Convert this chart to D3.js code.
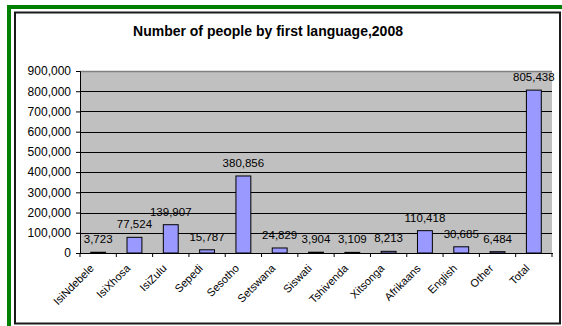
<!DOCTYPE html>
<html><head><meta charset="utf-8">
<script src="https://cdn.jsdelivr.net/npm/d3@7"></script>
<style>body{margin:0;background:#fff}svg{display:block}text{font-family:"Liberation Sans",Arial,sans-serif}</style>
</head><body><svg id="c" width="562" height="326"></svg>
<script>
const categories = ["IsiNdebele","IsiXhosa","IsiZulu","Sepedi","Sesotho","Setswana","Siswati","Tshivenda","Xitsonga","Afrikaans","English","Other","Total"];
const values = [3723,77524,139907,15787,380856,24829,3904,3109,8213,110418,30685,6484,805438];
const yTicks = [0,100000,200000,300000,400000,500000,600000,700000,800000,900000];
const title = "Number of people by first language,2008";

const svg = d3.select("#c");
// green outer frame (cropped at right/bottom)
svg.append("rect").attr("x",9).attr("y",7).attr("width",600).attr("height",400)
  .attr("fill","none").attr("stroke","#008000").attr("stroke-width",4);
// chart area
svg.append("rect").attr("x",15).attr("y",12.5).attr("width",545).attr("height",311)
  .attr("fill","#fff").attr("stroke","#1a1a1a").attr("stroke-width",2);

svg.append("text").attr("x",268).attr("y",36).attr("text-anchor","middle")
  .attr("font-size",14).attr("font-weight","bold").text(title);

const m = {l:80, r:552, t:71, b:253};
const x = d3.scaleBand().domain(categories).range([m.l,m.r]).paddingInner(0.59).paddingOuter(0.295);
const xb = d3.scaleBand().domain(categories).range([m.l,m.r]);
const y = d3.scaleLinear().domain([0,900000]).range([m.b,m.t]);

svg.append("rect").attr("x",m.l).attr("y",m.t).attr("width",m.r-m.l).attr("height",m.b-m.t).attr("fill","#c0c0c0");
svg.append("g").selectAll("line").data(yTicks.slice(1)).join("line")
  .attr("x1",m.l).attr("x2",m.r).attr("y1",d=>Math.round(y(d))+0.5).attr("y2",d=>Math.round(y(d))+0.5)
  .attr("stroke","#000").attr("stroke-width",1);
svg.append("line").attr("x1",m.l).attr("x2",m.r).attr("y1",m.t+0.5).attr("y2",m.t+0.5).attr("stroke","#808080").attr("stroke-width",1.5);

svg.append("g").selectAll("rect").data(values).join("rect")
  .attr("x",(d,i)=>x(categories[i])).attr("width",x.bandwidth())
  .attr("y",d=>y(d)).attr("height",d=>m.b-y(d))
  .attr("fill","#9999ff").attr("stroke","#000").attr("stroke-width",1);

svg.append("g").selectAll("text").data(values).join("text")
  .attr("x",(d,i)=>xb(categories[i])+xb.bandwidth()/2).attr("y",d=>y(d)-9)
  .attr("text-anchor","middle").attr("font-size",11.5).attr("fill","#000")
  .text(d=>d3.format(",")(d));

// y axis
const ya = d3.axisLeft(y).tickValues(yTicks).tickFormat(d3.format(",")).tickSize(4).tickPadding(5);
const gy = svg.append("g").attr("transform",`translate(${m.l},0)`).call(ya);
gy.select(".domain").attr("stroke","#000");
gy.selectAll("text").attr("font-size",12).attr("fill","#000").style("font-family","Liberation Sans, Arial, sans-serif");

// x axis
svg.append("line").attr("x1",m.l).attr("x2",m.r+1).attr("y1",m.b+0.5).attr("y2",m.b+0.5).attr("stroke","#000");
const bounds = categories.map(c=>xb(c)).concat([m.r]);
svg.append("g").selectAll("line").data(bounds).join("line")
  .attr("x1",d=>d).attr("x2",d=>d).attr("y1",m.b).attr("y2",m.b+4).attr("stroke","#000");
svg.append("g").selectAll("text").data(categories).join("text")
  .attr("transform",c=>`translate(${xb(c)+xb.bandwidth()/2-3.5},${m.b+16}) rotate(-45)`)
  .attr("text-anchor","end").attr("font-size",11).attr("fill","#000").text(c=>c);
</script></body></html>
